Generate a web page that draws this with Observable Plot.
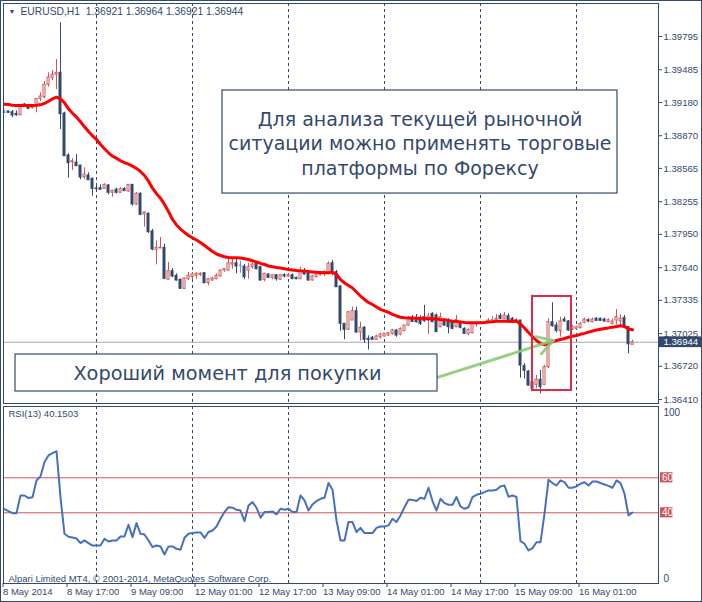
<!DOCTYPE html>
<html><head><meta charset="utf-8">
<script src="https://cdn.jsdelivr.net/npm/d3@7"></script>
<script src="https://cdn.jsdelivr.net/npm/@observablehq/plot@0.6"></script>
<style>
html,body{margin:0;padding:0;background:#fff;}
#wrap{position:relative;width:702px;height:602px;overflow:hidden;background:#fff;}
#wrap svg{position:absolute;left:0;}
#border{position:absolute;left:0;top:0;width:702px;height:602px;box-sizing:border-box;border:1px solid #34496E;pointer-events:none;}
</style></head><body><div id="wrap"><div id="border"></div></div><script>
// ---------- data ----------
const open = [1.39089,1.39096,1.39089,1.39074,1.39061,1.39161,1.39136,1.39127,1.39158,1.39214,1.39230,1.39345,1.39410,1.39438,1.39457,1.39077,1.38686,1.38623,1.38620,1.38592,1.38483,1.38499,1.38469,1.38378,1.38381,1.38375,1.38406,1.38338,1.38366,1.38338,1.38372,1.38350,1.38412,1.38229,1.38329,1.38136,1.38142,1.37977,1.37806,1.37819,1.37825,1.37527,1.37607,1.37564,1.37527,1.37442,1.37532,1.37551,1.37564,1.37573,1.37588,1.37495,1.37520,1.37532,1.37557,1.37613,1.37613,1.37669,1.37681,1.37663,1.37650,1.37613,1.37644,1.37676,1.37644,1.37527,1.37576,1.37545,1.37569,1.37527,1.37569,1.37557,1.37569,1.37545,1.37532,1.37607,1.37588,1.37520,1.37551,1.37569,1.37582,1.37588,1.37681,1.37597,1.37464,1.37116,1.37060,1.37147,1.37234,1.37035,1.37079,1.36976,1.36986,1.36967,1.36991,1.36998,1.37007,1.37023,1.37054,1.37016,1.37047,1.37100,1.37166,1.37163,1.37154,1.37178,1.37147,1.37209,1.37194,1.37085,1.37147,1.37131,1.37131,1.37085,1.37131,1.37069,1.37023,1.37029,1.37110,1.37122,1.37116,1.37128,1.37154,1.37147,1.37189,1.37163,1.37187,1.37163,1.37126,1.37147,1.36721,1.36671,1.36572,1.36547,1.36594,1.36547,1.36712,1.37131,1.37100,1.37047,1.37156,1.37138,1.37063,1.37069,1.37075,1.37126,1.37150,1.37131,1.37163,1.37163,1.37156,1.37131,1.37116,1.37147,1.37138,1.37170,1.37085,1.36921];
const high = [1.39105,1.39101,1.39105,1.39102,1.39152,1.39171,1.39145,1.39147,1.39217,1.39270,1.39376,1.39457,1.39478,1.39581,1.39923,1.39089,1.38702,1.38655,1.38695,1.38592,1.38571,1.38524,1.38474,1.38412,1.38412,1.38422,1.38415,1.38362,1.38381,1.38385,1.38387,1.38412,1.38412,1.38341,1.38338,1.38161,1.38151,1.37996,1.37890,1.37921,1.37859,1.37688,1.37632,1.37582,1.37532,1.37545,1.37595,1.37595,1.37592,1.37592,1.37595,1.37539,1.37551,1.37582,1.37620,1.37632,1.37737,1.37722,1.37722,1.37700,1.37669,1.37681,1.37681,1.37681,1.37650,1.37588,1.37582,1.37576,1.37576,1.37576,1.37582,1.37582,1.37582,1.37551,1.37644,1.37632,1.37595,1.37564,1.37588,1.37601,1.37607,1.37694,1.37707,1.37613,1.37474,1.37116,1.37234,1.37271,1.37271,1.37131,1.37091,1.37004,1.36998,1.37010,1.37029,1.37023,1.37035,1.37066,1.37060,1.37079,1.37100,1.37184,1.37194,1.37203,1.37190,1.37287,1.37212,1.37219,1.37209,1.37215,1.37163,1.37163,1.37147,1.37194,1.37141,1.37079,1.37069,1.37122,1.37131,1.37131,1.37138,1.37163,1.37184,1.37203,1.37212,1.37222,1.37212,1.37175,1.37166,1.37147,1.36743,1.36681,1.36588,1.36634,1.36681,1.36727,1.37163,1.37312,1.37126,1.37178,1.37178,1.37147,1.37100,1.37094,1.37126,1.37169,1.37163,1.37169,1.37175,1.37170,1.37169,1.37163,1.37163,1.37250,1.37200,1.37194,1.37085,1.36964];
const low = [1.39077,1.39077,1.39037,1.39052,1.39059,1.39143,1.39112,1.39119,1.39084,1.39189,1.39214,1.39323,1.39385,1.39301,1.38928,1.38679,1.38474,1.38546,1.38586,1.38459,1.38462,1.38455,1.38306,1.38350,1.38366,1.38372,1.38319,1.38297,1.38328,1.38334,1.38350,1.38343,1.38213,1.38220,1.38123,1.38017,1.37958,1.37797,1.37666,1.37816,1.37527,1.37527,1.37545,1.37514,1.37442,1.37436,1.37520,1.37527,1.37532,1.37557,1.37489,1.37471,1.37514,1.37527,1.37551,1.37597,1.37607,1.37625,1.37582,1.37588,1.37527,1.37532,1.37625,1.37620,1.37514,1.37508,1.37539,1.37527,1.37514,1.37520,1.37545,1.37551,1.37532,1.37527,1.37532,1.37569,1.37514,1.37514,1.37545,1.37564,1.37557,1.37582,1.37564,1.37457,1.37047,1.36967,1.37060,1.37147,1.37029,1.36957,1.36933,1.36872,1.36960,1.36960,1.36973,1.36991,1.36998,1.37010,1.36991,1.37004,1.37047,1.37097,1.37128,1.37122,1.37100,1.37131,1.37016,1.37128,1.37035,1.37079,1.37091,1.37023,1.37060,1.37079,1.37069,1.37016,1.37007,1.37023,1.37085,1.37110,1.37110,1.37122,1.37131,1.37141,1.37156,1.37156,1.37122,1.37119,1.37119,1.36609,1.36603,1.36534,1.36485,1.36510,1.36463,1.36540,1.36697,1.37085,1.37032,1.36991,1.37131,1.37044,1.37054,1.37060,1.37069,1.37116,1.37126,1.37126,1.37138,1.37138,1.37131,1.37126,1.37106,1.37106,1.37100,1.37085,1.36836,1.36921];
const close = [1.39089,1.39084,1.39059,1.39061,1.39145,1.39155,1.39121,1.39140,1.39214,1.39236,1.39345,1.39413,1.39438,1.39457,1.39071,1.38679,1.38614,1.38632,1.38586,1.38481,1.38508,1.38455,1.38375,1.38372,1.38366,1.38412,1.38338,1.38356,1.38338,1.38372,1.38353,1.38412,1.38229,1.38329,1.38133,1.38154,1.37971,1.37809,1.37825,1.37825,1.37536,1.37607,1.37557,1.37520,1.37442,1.37539,1.37564,1.37576,1.37582,1.37582,1.37495,1.37532,1.37539,1.37564,1.37613,1.37626,1.37681,1.37681,1.37650,1.37663,1.37550,1.37644,1.37669,1.37625,1.37520,1.37582,1.37545,1.37569,1.37532,1.37569,1.37557,1.37569,1.37532,1.37532,1.37607,1.37576,1.37520,1.37557,1.37576,1.37595,1.37601,1.37676,1.37582,1.37457,1.37116,1.37060,1.37224,1.37234,1.37035,1.37079,1.36967,1.36967,1.36967,1.36998,1.37016,1.37023,1.37029,1.37054,1.37007,1.37066,1.37100,1.37166,1.37133,1.37131,1.37116,1.37141,1.37184,1.37131,1.37038,1.37178,1.37100,1.37085,1.37069,1.37154,1.37079,1.37023,1.37060,1.37116,1.37122,1.37116,1.37131,1.37147,1.37154,1.37163,1.37163,1.37194,1.37131,1.37126,1.37152,1.36727,1.36678,1.36540,1.36510,1.36594,1.36525,1.36712,1.37131,1.37094,1.37051,1.37138,1.37138,1.37054,1.37085,1.37085,1.37116,1.37156,1.37138,1.37156,1.37144,1.37144,1.37138,1.37150,1.37138,1.37178,1.37163,1.37100,1.36925,1.36944];
const maValues = [1.39164,1.39161,1.39155,1.39152,1.39152,1.39152,1.39152,1.39152,1.39154,1.39158,1.39171,1.39192,1.39214,1.39229,1.39214,1.39177,1.39121,1.39080,1.39043,1.39000,1.38953,1.38909,1.38869,1.38835,1.38788,1.38748,1.38711,1.38679,1.38661,1.38636,1.38620,1.38605,1.38586,1.38565,1.38536,1.38499,1.38446,1.38381,1.38329,1.38288,1.38229,1.38163,1.38089,1.38038,1.38000,1.37968,1.37940,1.37918,1.37898,1.37874,1.37846,1.37818,1.37790,1.37767,1.37753,1.37741,1.37735,1.37732,1.37732,1.37730,1.37723,1.37716,1.37704,1.37693,1.37679,1.37669,1.37655,1.37648,1.37641,1.37637,1.37629,1.37623,1.37618,1.37613,1.37610,1.37608,1.37604,1.37600,1.37596,1.37595,1.37593,1.37592,1.37597,1.37576,1.37529,1.37497,1.37473,1.37450,1.37413,1.37375,1.37343,1.37315,1.37296,1.37273,1.37251,1.37236,1.37222,1.37205,1.37189,1.37177,1.37173,1.37171,1.37170,1.37169,1.37168,1.37166,1.37164,1.37163,1.37160,1.37157,1.37155,1.37147,1.37140,1.37138,1.37134,1.37128,1.37126,1.37126,1.37126,1.37126,1.37128,1.37132,1.37136,1.37139,1.37141,1.37141,1.37141,1.37141,1.37141,1.37114,1.37077,1.37035,1.36998,1.36961,1.36933,1.36919,1.36933,1.36947,1.36961,1.36970,1.36979,1.36991,1.37001,1.37007,1.37018,1.37027,1.37038,1.37049,1.37058,1.37066,1.37072,1.37078,1.37085,1.37091,1.37098,1.37091,1.37068,1.37060];
const rsiValues = [42.1,41.0,39.8,39.8,49.9,49.9,48.4,48.9,58.5,60.8,69.0,72.8,74.1,75.2,49.0,28.0,26.3,25.9,25.3,22.7,24.2,22.7,21.3,21.3,21.3,25.2,23.6,24.2,24.2,26.5,26.5,33.2,26.1,34.1,28.0,27.6,24.2,20.4,21.3,20.8,16.2,20.8,20.8,19.4,18.9,25.7,28.0,28.4,28.8,28.8,25.7,29.0,29.9,32.2,36.6,40.4,43.2,42.9,41.7,41.3,35.2,44.2,46.1,42.9,37.2,40.4,40.4,40.8,39.1,42.3,41.7,42.3,40.4,40.4,49.9,47.1,41.3,44.8,46.7,48.0,48.6,57.0,53.2,35.6,24.2,24.2,34.7,34.7,29.0,31.4,28.4,28.4,28.4,31.4,32.2,32.2,32.8,36.6,34.7,38.5,43.2,47.4,47.4,46.7,48.6,48.0,54.3,46.7,41.3,48.0,45.5,44.6,44.6,49.0,43.6,42.3,43.2,49.0,50.3,50.9,51.8,52.8,52.8,53.2,55.1,55.6,49.2,49.9,49.0,23.8,22.3,18.5,19.8,23.2,23.2,39.4,58.9,57.0,55.6,58.5,57.5,54.3,54.3,55.1,56.6,57.5,55.6,57.9,57.9,57.0,56.2,55.4,54.3,58.5,57.0,50.9,38.5,40.15];
const priceTicks = [1.39795,1.39485,1.39180,1.38870,1.38565,1.38255,1.37950,1.37640,1.37335,1.37025,1.36720,1.36410];
const timeTickBars = [0,16,32,48,64,80,96,112,128,144];
const timeLabels = ["8 May 2014","8 May 17:00","9 May 09:00","12 May 01:00","12 May 17:00","13 May 09:00","14 May 01:00","14 May 17:00","15 May 09:00","16 May 01:00"];
const daySeparators = [23,47,71,95,119,143];
const rsiLevels = [60,40];
const headerText = "EURUSD,H1  1.36921 1.36964 1.36921 1.36944";
const rsiText = "RSI(13) 40.1503";
const copyrightText = "Alpari Limited MT4, © 2001-2014, MetaQuotes Software Corp.";
const noteTop = "Для анализа текущей рыночной\nситуации можно применять торговые\nплатформы по Форексу";
const noteBottom = "Хороший момент для покупки";
// annotation anchors in chart units (bar index, price)
const noteTopBox = {x1: 54.5, x2: 153.25, y1: 1.39292, y2: 1.38331, tx: 103.875, ty: 1.38808};
const noteBottomBox = {x1: 2.75, x2: 108.25, y1: 1.36830, y2: 1.36485, tx: 55.75, ty: 1.36653};
const focusBox = {x1: 132, x2: 141.75, y1: 1.37371, y2: 1.36494};
const arrowLine = {x1: 108.25, y1: 1.36616, x2: 137.25, y2: 1.36961};

// ---------- styles ----------
const NAVY = "#34496E";
const BULL = "#CF5656";
const DOJI = "#5D8FE0";
const FONT = "Liberation Sans, Arial, sans-serif";
const NOTE_FONT = "DejaVu Sans, Verdana, sans-serif";

const bars = open.map((o, i) => ({i, o, h: high[i], l: low[i], c: close[i], ma: maValues[i], rsi: rsiValues[i]}));
const bulls = bars.filter(d => d.c > d.o);
const bears = bars.filter(d => d.c < d.o);
const dojis = bars.filter(d => d.c === d.o);
const lastClose = close[close.length - 1];
const xDomain = [-0.25, 163.5];
const xEnd = xDomain[1];

const main = Plot.plot({
  width: 702, height: 404,
  marginLeft: 3, marginRight: 44, marginTop: 3, marginBottom: 1,
  x: {domain: xDomain, axis: null},
  y: {domain: [1.36373, 1.40103], axis: null},
  style: {fontFamily: FONT, background: "transparent"},
  marks: [
    Plot.ruleX(daySeparators, {stroke: NAVY, strokeDasharray: "3,3", strokeWidth: 1}),
    Plot.ruleY([lastClose], {stroke: "#A8A8A8"}),
    Plot.ruleX(bulls, {x: "i", y1: "l", y2: "h", stroke: BULL}),
    Plot.ruleX(bears, {x: "i", y1: "l", y2: "h", stroke: NAVY}),
    Plot.ruleX(dojis, {x: "i", y1: "l", y2: "h", stroke: DOJI}),
    Plot.rect(bulls, {x1: d => d.i - 0.25, x2: d => d.i + 0.25, y1: "o", y2: "c", fill: "white", stroke: BULL}),
    Plot.rect(bears, {x1: d => d.i - 0.25, x2: d => d.i + 0.25, y1: "o", y2: "c", fill: NAVY, stroke: NAVY}),
    Plot.ruleY(dojis, {y: "o", x1: d => d.i - 0.375, x2: d => d.i + 0.375, stroke: DOJI}),
    Plot.line(bars, {x: "i", y: "ma", stroke: "#FF0000", strokeWidth: 3}),
    // annotations
    Plot.rect([noteTopBox], {x1: "x1", x2: "x2", y1: "y1", y2: "y2", fill: "white", stroke: NAVY, strokeWidth: 1.2}),
    Plot.text([noteTopBox], {x: "tx", y: "ty", text: () => noteTop, fontSize: 19, lineHeight: 1.3, fill: NAVY, fontFamily: NOTE_FONT}),
    Plot.arrow([arrowLine], {x1: "x1", y1: "y1", x2: "x2", y2: "y2", stroke: "#8CCB78", strokeWidth: 3, headLength: 9, strokeOpacity: 0.9}),
    Plot.rect([noteBottomBox], {x1: "x1", x2: "x2", y1: "y1", y2: "y2", fill: "white", stroke: NAVY, strokeWidth: 1.2}),
    Plot.text([noteBottomBox], {x: "tx", y: "ty", text: () => noteBottom, fontSize: 19.3, fill: NAVY, fontFamily: NOTE_FONT}),
    Plot.rect([focusBox], {x1: "x1", x2: "x2", y1: "y1", y2: "y2", fill: "none", stroke: "#DC2D45", strokeWidth: 2}),
    // right price axis
    Plot.axisY(priceTicks, {anchor: "right", label: null, tickSize: 3, tickPadding: 2, tickFormat: d => d.toFixed(5), fontSize: 9.6, color: NAVY}),
    Plot.rect([lastClose], {x1: xEnd + 0.25, x2: xEnd + 11, y1: d => d - 0.0005, y2: d => d + 0.0005, fill: NAVY}),
    Plot.text([lastClose], {y: d => d, frameAnchor: "right", dx: 5, textAnchor: "start", text: d => d.toFixed(5), fill: "white", fontSize: 9.6}),
    Plot.frame({stroke: NAVY}),
    Plot.text(["▼"], {frameAnchor: "top-left", dx: 5, dy: 6, lineAnchor: "top", textAnchor: "start", fontSize: 7, fill: NAVY}),
    Plot.text([headerText], {frameAnchor: "top-left", dx: 17, dy: 4, lineAnchor: "top", textAnchor: "start", fontSize: 10.3, fill: NAVY})
  ]
});
main.style.top = "0px";

const labelFor = new Map(timeTickBars.map((b, k) => [b, timeLabels[k]]));
const rsiPlot = Plot.plot({
  width: 702, height: 198,
  marginLeft: 3, marginRight: 44, marginTop: 2, marginBottom: 19,
  x: {domain: xDomain, axis: null},
  y: {domain: [-0.4, 100.74], axis: null},
  style: {fontFamily: FONT, background: "transparent"},
  marks: [
    Plot.ruleX(daySeparators, {stroke: NAVY, strokeDasharray: "3,3"}),
    Plot.ruleY(rsiLevels, {stroke: "#D25555"}),
    Plot.line(bars, {x: "i", y: "rsi", stroke: "#4670C2", strokeWidth: 2}),
    Plot.axisX(timeTickBars, {anchor: "bottom", label: null, tickSize: 4, tickPadding: 1, tickFormat: d => labelFor.get(d), textAnchor: "start", dx: -1.5, fontSize: 9.5, color: NAVY}),
    Plot.axisY([100], {anchor: "right", label: null, tickSize: 0, tickPadding: 5, dy: 5, fontSize: 10, color: NAVY}),
    Plot.axisY([0], {anchor: "right", label: null, tickSize: 0, tickPadding: 5, dy: -4, fontSize: 10, color: NAVY}),
    Plot.rect(rsiLevels, {x1: xEnd + 0.5, x2: xEnd + 3.6, y1: d => d - 2.9, y2: d => d + 2.9, fill: "#D25555"}),
    Plot.text(rsiLevels, {y: d => d, frameAnchor: "right", dx: 3.5, textAnchor: "start", text: d => String(d), fill: "white", fontSize: 10}),
    Plot.frame({stroke: NAVY}),
    Plot.text([rsiText], {frameAnchor: "top-left", dx: 5, dy: 4, lineAnchor: "top", textAnchor: "start", fontSize: 9.5, fill: NAVY}),
    Plot.text([copyrightText], {frameAnchor: "bottom-left", dx: 5, dy: -2, lineAnchor: "bottom", textAnchor: "start", fontSize: 9.5, fill: NAVY})
  ]
});
rsiPlot.style.top = "404px";

const wrap = document.getElementById("wrap");
wrap.insertBefore(rsiPlot, wrap.firstChild);
wrap.insertBefore(main, wrap.firstChild);
</script></body></html>
